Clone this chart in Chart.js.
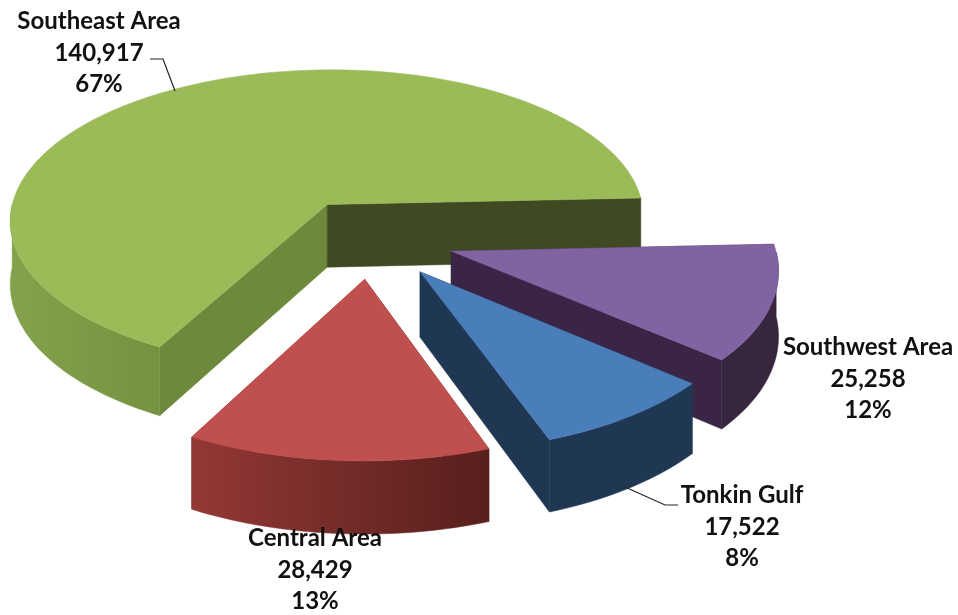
<!DOCTYPE html>
<html>
<head>
<meta charset="utf-8">
<style>
  body { margin: 0; background: #fff; }
</style>
<script src="https://cdn.jsdelivr.net/npm/chart.js@4"></script>
</head>
<body>
<canvas id="myChart" width="958" height="615"></canvas>
<script>
const categories = ['Southeast Area', 'Southwest Area', 'Tonkin Gulf', 'Central Area'];
const areaValues = [140917, 25258, 17522, 28429];
const valueLabels = ['140,917', '25,258', '17,522', '28,429'];
const percentLabels = ['67%', '12%', '8%', '13%'];

const topColors = ['#9bbb59', '#8064a2', '#4a7ebb', '#c0504d'];
const wallLeft = ['#84a14b', '#38263f', '#1f3753', '#933835'];
const wallRight = ['#759240', '#38263f', '#1f3753', '#571f1d'];
const startCut = ['#6d893b', '#38263f', '#1f3753', '#571f1d'];
const endCut = ['#3f4a22', '#3b2547', '#1f3753', '#933835'];

// where the text blocks sit: centre x, first line y
const labelPos = [[99, 21], [868, 347], [742, 495], [315, 538]];
const leaders = [
  [[150, 59], [163, 59], [175, 91]],
  null,
  [[625, 487], [665, 505], [678, 505]],
  null
];

// fake 3d view of the pie plane
const view = { x: 371, y: 238, radius: 322, tilt: 0.48, persp: 0.1, depth: 64 };

function project(u, v, h) {
  const s = 1 / (1 - view.persp * v / view.radius);
  return [view.x + u * s, view.y + v * view.tilt * s + h * s];
}

function fillPoly(ctx, pts, fill) {
  ctx.beginPath();
  pts.forEach((p, i) => i ? ctx.lineTo(p[0], p[1]) : ctx.moveTo(p[0], p[1]));
  ctx.closePath();
  ctx.fillStyle = fill;
  ctx.fill();
  ctx.strokeStyle = fill;
  ctx.lineWidth = 0.5;
  ctx.stroke();
}

const pie3d = {
  id: 'pie3d',
  beforeDatasetsDraw(chart) {
    const ctx = chart.ctx;
    const arcs = chart.getDatasetMeta(0).data;
    arcs.forEach((arc, i) => {
      const scale = view.radius / arc.outerRadius;
      const mid = (arc.startAngle + arc.endAngle) / 2;
      const ax = Math.cos(mid) * arc.options.offset * scale;
      const ay = Math.sin(mid) * arc.options.offset * scale;

      const rim = [];
      const front = [];
      const steps = Math.ceil((arc.endAngle - arc.startAngle) * 40);
      for (let n = 0; n <= steps; n++) {
        const a = arc.startAngle + (arc.endAngle - arc.startAngle) * n / steps;
        const p = [ax + Math.cos(a) * view.radius, ay + Math.sin(a) * view.radius];
        rim.push(p);
        if (Math.sin(a) >= 0) front.push(p);
      }
      const first = rim[0];
      const last = rim[rim.length - 1];
      const d = view.depth;

      // cut faces
      fillPoly(ctx, [project(ax, ay, 0), project(first[0], first[1], 0), project(first[0], first[1], d), project(ax, ay, d)], startCut[i]);
      fillPoly(ctx, [project(ax, ay, 0), project(last[0], last[1], 0), project(last[0], last[1], d), project(ax, ay, d)], endCut[i]);

      // outer wall, only the part that faces the viewer
      const upper = front.map(p => project(p[0], p[1], 0));
      const lower = front.map(p => project(p[0], p[1], d)).reverse();
      const xs = upper.map(p => p[0]);
      const grad = ctx.createLinearGradient(Math.min(...xs), 0, Math.max(...xs), 0);
      grad.addColorStop(0, wallLeft[i]);
      grad.addColorStop(1, wallRight[i]);
      fillPoly(ctx, upper.concat(lower), grad);

      // top face
      fillPoly(ctx, [project(ax, ay, 0)].concat(rim.map(p => project(p[0], p[1], 0))), topColors[i]);
    });
    return false;
  },
  afterDraw(chart) {
    const ctx = chart.ctx;
    ctx.save();
    ctx.strokeStyle = '#222';
    ctx.lineWidth = 1.2;
    leaders.forEach(line => {
      if (!line) return;
      ctx.beginPath();
      line.forEach((p, i) => i ? ctx.lineTo(p[0], p[1]) : ctx.moveTo(p[0], p[1]));
      ctx.stroke();
    });
    ctx.fillStyle = '#111';
    ctx.font = 'bold 24px Lato';
    ctx.textAlign = 'center';
    ctx.textBaseline = 'middle';
    categories.forEach((name, i) => {
      const [x, y] = labelPos[i];
      ctx.fillText(name, x, y);
      ctx.fillText(valueLabels[i], x, y + 32);
      ctx.fillText(percentLabels[i], x, y + 63);
    });
    ctx.restore();
  }
};

var ctx = document.getElementById('myChart').getContext('2d');
var myChart = new Chart(ctx, {
  type: 'pie',
  data: {
    labels: categories,
    datasets: [{
      data: areaValues,
      backgroundColor: topColors,
      borderWidth: 0,
      offset: 71
    }]
  },
  options: {
    responsive: false,
    animation: false,
    rotation: 208.3,
    plugins: {
      legend: { display: false },
      tooltip: { enabled: false }
    }
  },
  plugins: [pie3d]
});
</script>
</body>
</html>
